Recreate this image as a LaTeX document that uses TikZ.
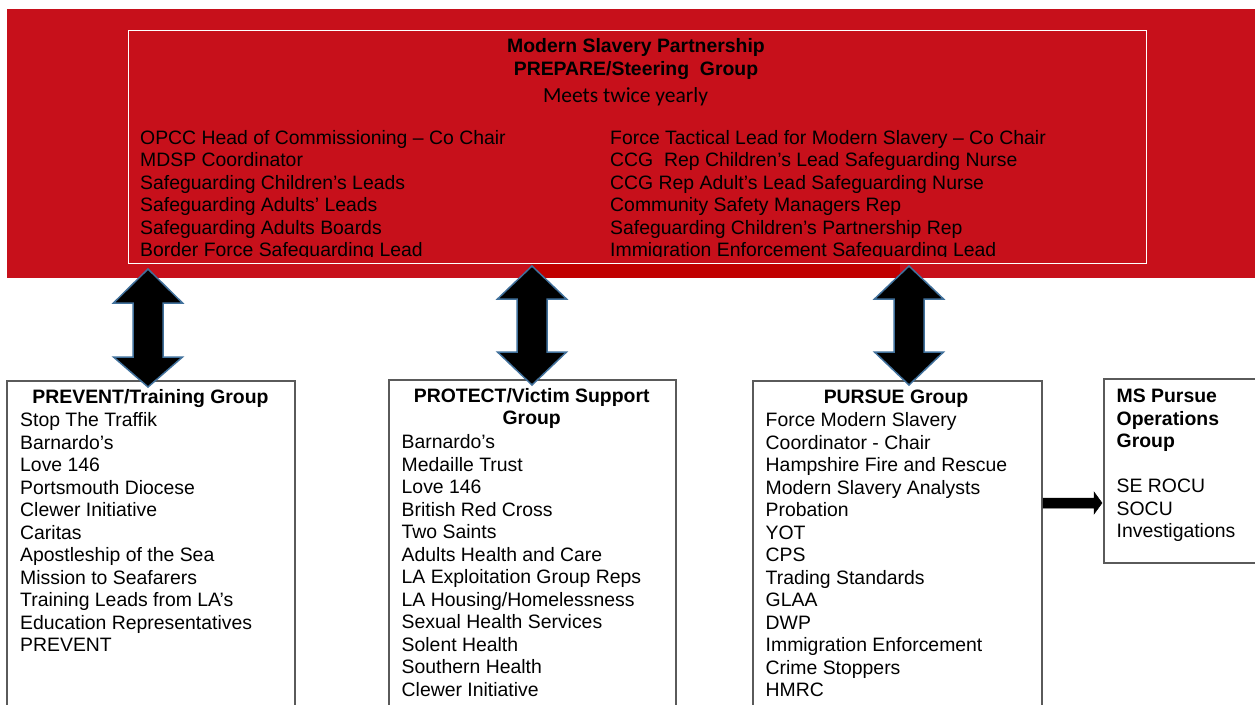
\documentclass[tikz,border=0pt]{standalone}
\usepackage{fontspec}
\setmainfont{Liberation Sans}
\newfontfamily\calfont{Carlito}
\definecolor{msred}{RGB}{199,16,27}
\definecolor{msdark}{RGB}{192,0,0}
\definecolor{boxgray}{RGB}{90,90,90}
\definecolor{arrowblue}{RGB}{65,113,156}
\tikzset{
  item/.style={anchor=base west, inner sep=0pt, font=\fontsize{19.4}{22.5}\selectfont},
  head/.style={anchor=base, inner sep=0pt, font=\fontsize{19.4}{22.5}\selectfont\bfseries},
  grpbox/.style={draw=boxgray, line width=1.2pt, fill=white},
  dblarrow/.style={fill=black, draw=arrowblue, line width=1.5pt, line join=miter},
  rarrow/.style={fill=black, draw=black, line width=0.5pt},
}
\begin{document}
\begin{tikzpicture}[x=1pt,y=-1pt]
\useasboundingbox (0,0) rectangle (1255,704);
\clip (0,0) rectangle (1255,704);
\fill[white] (0,0) rectangle (1255,704);

% red steering band
\fill[msred] (7,9) rectangle (1258,278);
\fill[msdark] (532,264) rectangle (900,278);
\draw[white, line width=1pt] (128,30) rectangle (1146,263);
\coordinate (steerL) at (148,269);
\coordinate (steerM) at (532,266);
\coordinate (steerR) at (909,266);

\node[head] (title1) at (636,52.5) {Modern Slavery Partnership};
\node[head] (title2) at (636,75) {PREPARE/Steering\ \ Group};
\node[anchor=base, inner sep=0pt, font=\calfont\fontsize{21.5}{24}\selectfont] (meets) at (625.5,102) {Meets twice yearly};

\begin{scope}
\clip (128,30) rectangle (1146,256.5);
\foreach \t [count=\i] in {{OPCC Head of Commissioning – Co Chair},{MDSP Coordinator},{Safeguarding Children’s Leads},{Safeguarding Adults’ Leads},{Safeguarding Adults Boards},{Border Force Safeguarding Lead}}
  \node[item] (sl\i) at (140,{144+22.5*(\i-1)}) {\t};
\foreach \t [count=\i] in {{Force Tactical Lead for Modern Slavery – Co Chair},{CCG\ \ Rep Children’s Lead Safeguarding Nurse},{CCG Rep Adult’s Lead Safeguarding Nurse},{Community Safety Managers Rep},{Safeguarding Children’s Partnership Rep},{Immigration Enforcement Safeguarding Lead}}
  \node[item] (sr\i) at (610,{144+22.5*(\i-1)}) {\t};
\end{scope}

% group boxes
\draw[grpbox] (7,381) rectangle (295,720);
\draw[grpbox] (389,380) rectangle (676,720);
\draw[grpbox] (753,381) rectangle (1042,720);
\draw[grpbox] (1104,379) rectangle (1258,563);
\coordinate (prevTop) at (148,387);
\coordinate (protTop) at (532,385);
\coordinate (pursTop) at (909,385);
\coordinate (pursR) at (1043,503);
\coordinate (opsL) at (1102,503);

% PREVENT
\node[head] (prevH) at (150.5,403.3) {PREVENT/Training Group};
\foreach \t [count=\i] in {{Stop The Traffik},{Barnardo’s},{Love 146},{Portsmouth Diocese},{Clewer Initiative},{Caritas},{Apostleship of the Sea},{Mission to Seafarers},{Training Leads from LA’s},{Education Representatives},{PREVENT}}
  \node[item] (pv\i) at (20,{426.7+22.5*(\i-1)}) {\t};

% PROTECT
\node[head] (protH1) at (531.7,402) {PROTECT/Victim Support};
\node[head] (protH2) at (531.7,424.5) {Group};
\foreach \t [count=\i] in {{Barnardo’s},{Medaille Trust},{Love 146},{British Red Cross},{Two Saints},{Adults Health and Care},{LA Exploitation Group Reps},{LA Housing/Homelessness},{Sexual Health Services},{Solent Health},{Southern Health},{Clewer Initiative}}
  \node[item] (pt\i) at (401.5,{448.5+22.5*(\i-1)}) {\t};

% PURSUE
\node[head] (pursH) at (896,403.3) {PURSUE Group};
\foreach \t [count=\i] in {{Force Modern Slavery},{Coordinator - Chair},{Hampshire Fire and Rescue},{Modern Slavery Analysts},{Probation},{YOT},{CPS},{Trading Standards},{GLAA},{DWP},{Immigration Enforcement},{Crime Stoppers},{HMRC}}
  \node[item] (ps\i) at (765.5,{426.7+22.5*(\i-1)}) {\t};

% MS Pursue Operations
\node[item, font=\fontsize{19.4}{22.5}\selectfont\bfseries] (ops1) at (1116.5,402.5) {MS Pursue};
\node[item, font=\fontsize{19.4}{22.5}\selectfont\bfseries] (ops2) at (1116.5,425) {Operations};
\node[item, font=\fontsize{19.4}{22.5}\selectfont\bfseries] (ops3) at (1116.5,447.5) {Group};
\node[item] (ops4) at (1116.5,492.5) {SE ROCU};
\node[item] (ops5) at (1116.5,515) {SOCU};
\node[item] (ops6) at (1116.5,537.5) {Investigations};

% double block arrows
\foreach \c/\ta/\ba/\bb/\tb in {148/269/303/357/387, 532/266/299/352/385, 909/266/299/352/385}
  \draw[dblarrow] (\c,\ta) -- ({\c+34.5},\ba) -- ({\c+15},\ba) -- ({\c+15},\bb) -- ({\c+34.5},\bb)
     -- (\c,\tb) -- ({\c-34.5},\bb) -- ({\c-15},\bb) -- ({\c-15},\ba) -- ({\c-34.5},\ba) -- cycle;

% right block arrow
\draw[rarrow] (pursR) ++(0,-5) -- (1094,498) -- (1094,492) -- (opsL) -- (1094,514) -- (1094,508) -- (1043,508) -- cycle;
\end{tikzpicture}
\end{document}
